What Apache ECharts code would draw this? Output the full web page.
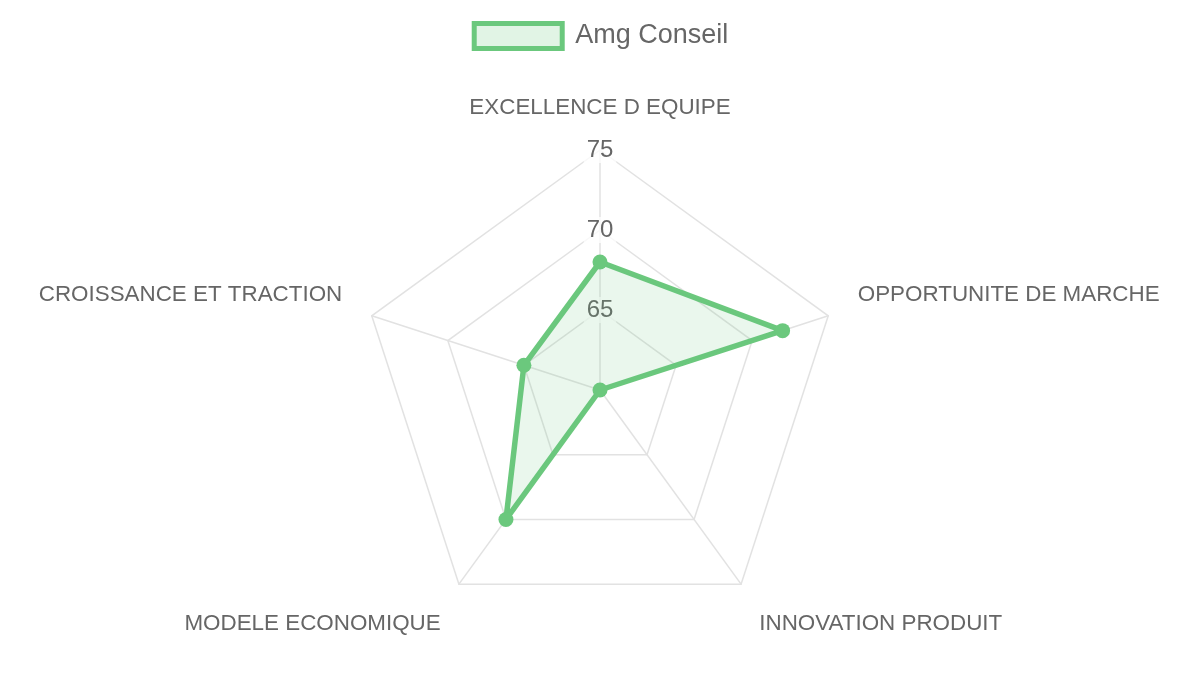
<!DOCTYPE html>
<html>
<head>
<meta charset="utf-8">
<script src="https://cdn.jsdelivr.net/npm/echarts@6/dist/echarts.min.js"></script>
<style>html,body{margin:0;padding:0;background:#fff}#c{width:1200px;height:675px}</style>
</head>
<body>
<div id="c"></div>
<script>
const seriesName = 'Amg Conseil';
const categories = ['EXCELLENCE D EQUIPE', 'OPPORTUNITE DE MARCHE', 'INNOVATION PRODUIT', 'MODELE ECONOMIQUE', 'CROISSANCE ET TRACTION'];
const values = [68, 72, 60, 70, 65];
const scaleMin = 60;
const scaleMax = 75;

// ECharts lays indicators counter-clockwise; reorder so the chart runs clockwise
const order = [0].concat(categories.map((_, i) => i).slice(1).reverse());
const cats = order.map(i => categories[i]);
const vals = order.map(i => values[i]);

const green = '#6bc87d';
const fill = 'rgba(107,200,125,0.2)';
const font = 'Liberation Sans, Arial, sans-serif';

const indicator = cats.map((c, p) => {
  const lower = (p === 2 || p === 3);
  return {
    name: c, min: scaleMin, max: scaleMax,
    axisLabel: { show: p === 0 },
    nameTextStyle: { verticalAlign: lower ? 'top' : 'bottom', padding: lower ? [4, 0, 0, 0] : 0 }
  };
});

const chart = echarts.init(document.getElementById('c'));
chart.setOption({
  backgroundColor: '#fff',
  animation: false,
  legend: {
    top: 16, left: 'center',
    icon: 'rect', itemWidth: 88, itemHeight: 25,
    itemStyle: { color: fill, borderColor: green, borderWidth: 5 },
    textStyle: { fontSize: 27, color: '#666', fontFamily: font, padding: [0, 0, 0, 8] },
    data: [seriesName]
  },
  radar: {
    center: [600, 390], radius: 240, startAngle: 90,
    shape: 'polygon', splitNumber: 3,
    indicator: indicator,
    axisName: { color: '#666', fontSize: 22.4, fontFamily: font },
    nameGap: 31,
    splitLine: { lineStyle: { color: '#e2e2e2', width: 1.5 } },
    axisLine: { lineStyle: { color: '#e2e2e2', width: 1.5 } },
    splitArea: { show: false },
    axisTick: { show: false },
    axisLabel: {
      show: false, showMinLabel: false,
      color: '#666', fontSize: 24, fontFamily: font,
      align: 'center', verticalAlign: 'middle', margin: 0,
      backgroundColor: 'rgba(255,255,255,0.75)', padding: [1, 3]
    }
  },
  series: [{
    type: 'radar',
    name: seriesName,
    symbol: 'circle', symbolSize: 15,
    lineStyle: { color: green, width: 5.5 },
    itemStyle: { color: green },
    areaStyle: { color: fill },
    data: [{ name: seriesName, value: vals }]
  }]
});
</script>
</body>
</html>
